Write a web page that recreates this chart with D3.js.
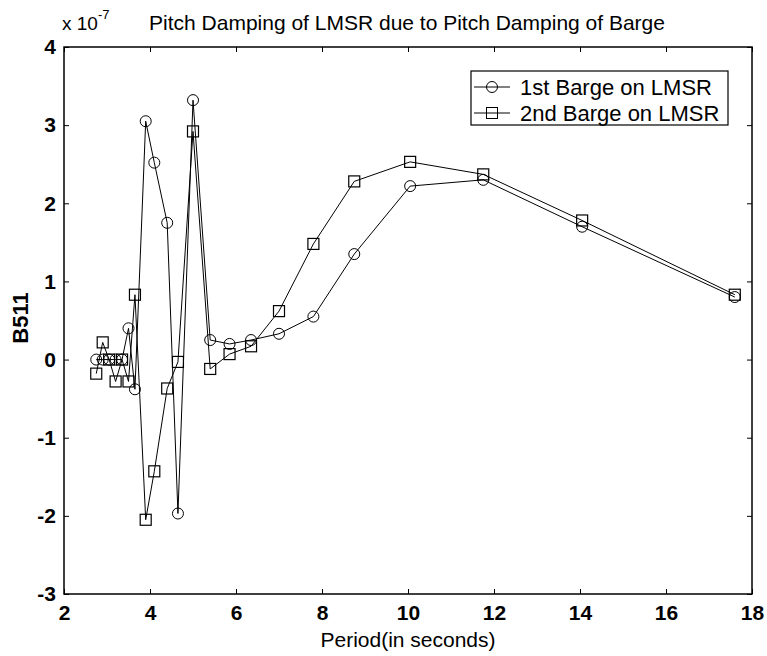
<!DOCTYPE html>
<html>
<head>
<meta charset="utf-8">
<script src="https://cdn.jsdelivr.net/npm/d3@7"></script>
<style>
  body { margin: 0; background: #fff; }
  text { font-family: "Liberation Sans", Arial, sans-serif; fill: #000; }
</style>
</head>
<body>
<div id="chart"></div>
<script>
// periods (seconds), shared by both series
var periods = [2.75, 2.9, 3.05, 3.2, 3.35, 3.5, 3.65, 3.9, 4.1, 4.4, 4.65, 5.0, 5.4, 5.85, 6.35, 7.0, 7.8, 8.75, 10.05, 11.75, 14.05, 17.6];
// B511 values, in units of 1e-7
var barge1 = [0.0, 0.0, 0.0, 0.0, 0.0, 0.4, -0.38, 3.05, 2.52, 1.75, -1.97, 3.32, 0.25, 0.2, 0.25, 0.33, 0.55, 1.35, 2.22, 2.30, 1.70, 0.80];
var barge2 = [-0.18, 0.22, 0.0, -0.28, 0.0, -0.28, 0.83, -2.05, -1.43, -0.37, -0.03, 2.92, -0.12, 0.07, 0.17, 0.62, 1.48, 2.28, 2.53, 2.37, 1.78, 0.83];
var seriesNames = ["1st Barge on LMSR", "2nd Barge on LMSR"];
var xTicks = [2, 4, 6, 8, 10, 12, 14, 16, 18];
var yTicks = [-3, -2, -1, 0, 1, 2, 3, 4];

var W = 767, H = 656;
var margin = {top: 47, right: 15, bottom: 62, left: 64},
    width = W - margin.left - margin.right,
    height = H - margin.top - margin.bottom;

var svg = d3.select("#chart").append("svg")
    .attr("width", W)
    .attr("height", H);

var g = svg.append("g")
    .attr("transform", "translate(" + margin.left + "," + margin.top + ")");

var x = d3.scaleLinear().domain([2, 18]).range([0, width]);
var y = d3.scaleLinear().domain([-3, 4]).range([height, 0]);

// matlab style ticks, hyphen minus
var fmt = function(d) { return String(d); };

// axes, ticks pointing inward like matlab
g.append("g")
    .attr("transform", "translate(0," + height + ")")
    .call(d3.axisBottom(x).tickValues(xTicks).tickFormat(fmt).tickSizeInner(-5).tickSizeOuter(0).tickPadding(11))
    .call(function(a) { a.select(".domain").remove(); })
    .selectAll("text").style("font-size", "21px").style("font-weight", "bold");

g.append("g")
    .call(d3.axisLeft(y).tickValues(yTicks).tickFormat(fmt).tickSizeInner(-5).tickSizeOuter(0).tickPadding(8))
    .call(function(a) { a.select(".domain").remove(); })
    .selectAll("text").style("font-size", "21px").style("font-weight", "bold");

g.append("g")
    .call(d3.axisTop(x).tickValues(xTicks).tickSizeInner(-5).tickSizeOuter(0).tickFormat(""))
    .call(function(a) { a.select(".domain").remove(); });

g.append("g")
    .attr("transform", "translate(" + width + ",0)")
    .call(d3.axisRight(y).tickValues(yTicks).tickSizeInner(-5).tickSizeOuter(0).tickFormat(""))
    .call(function(a) { a.select(".domain").remove(); });

g.append("rect")
    .attr("width", width)
    .attr("height", height)
    .attr("fill", "none")
    .attr("stroke", "#000")
    .attr("stroke-width", 1.5);

var line = d3.line()
    .x(function(d) { return x(d[0]); })
    .y(function(d) { return y(d[1]); });

var data1 = periods.map(function(p, i) { return [p, barge1[i]]; });
var data2 = periods.map(function(p, i) { return [p, barge2[i]]; });

g.append("path").datum(data1)
    .attr("d", line).attr("fill", "none").attr("stroke", "#000").attr("stroke-width", 1);
g.append("path").datum(data2)
    .attr("d", line).attr("fill", "none").attr("stroke", "#000").attr("stroke-width", 1);

g.selectAll(".circ").data(data1).enter().append("circle")
    .attr("cx", function(d) { return x(d[0]); })
    .attr("cy", function(d) { return y(d[1]); })
    .attr("r", 5.5)
    .attr("fill", "none").attr("stroke", "#000").attr("stroke-width", 1);

g.selectAll(".sq").data(data2).enter().append("rect")
    .attr("x", function(d) { return x(d[0]) - 5.5; })
    .attr("y", function(d) { return y(d[1]) - 5.5; })
    .attr("width", 11).attr("height", 11)
    .attr("fill", "none").attr("stroke", "#000").attr("stroke-width", 1.2);

// legend
var leg = g.append("g").attr("transform", "translate(" + (471 - margin.left) + "," + (71 - margin.top) + ")");
leg.append("rect").attr("width", 257).attr("height", 54)
    .attr("fill", "#fff").attr("stroke", "#000").attr("stroke-width", 1.2);
seriesNames.forEach(function(name, i) {
    var ly = 16 + i * 26;
    leg.append("line").attr("x1", 3).attr("x2", 39).attr("y1", ly).attr("y2", ly).attr("stroke", "#000");
    if (i === 0) {
        leg.append("circle").attr("cx", 21).attr("cy", ly).attr("r", 5.5).attr("fill", "none").attr("stroke", "#000");
    } else {
        leg.append("rect").attr("x", 15.5).attr("y", ly - 5.5).attr("width", 11).attr("height", 11).attr("fill", "none").attr("stroke", "#000");
    }
    leg.append("text").attr("x", 49).attr("y", ly + 8).style("font-size", "22px").text(name);
});

// titles
svg.append("text").attr("x", 407).attr("y", 30).attr("text-anchor", "middle")
    .style("font-size", "21px").text("Pitch Damping of LMSR due to Pitch Damping of Barge");

var mult = svg.append("text").attr("x", 62).attr("y", 30).style("font-size", "19px");
mult.append("tspan").text("x 10");
mult.append("tspan").attr("dy", -11).style("font-size", "13px").text("-7");

svg.append("text").attr("x", 408).attr("y", 647).attr("text-anchor", "middle")
    .style("font-size", "21px").text("Period(in seconds)");

svg.append("text").attr("transform", "translate(28,318) rotate(-90)")
    .attr("text-anchor", "middle").style("font-size", "22px").style("font-weight", "bold").text("B511");
</script>
</body>
</html>
